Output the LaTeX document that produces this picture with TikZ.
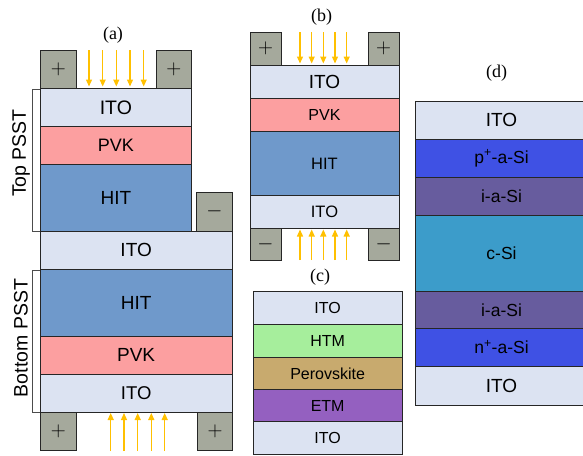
\documentclass[tikz,border=0pt]{standalone}
\usepackage{fontspec}
\setmainfont{Liberation Sans}
\newfontfamily\capfont{Liberation Serif}
\usetikzlibrary{arrows.meta,calc}

\definecolor{itocol}{HTML}{DCE3F2}
\definecolor{pvkcol}{HTML}{FC9FA0}
\definecolor{hitcol}{HTML}{6F99CB}
\definecolor{padcol}{HTML}{A5A99C}
\definecolor{raycol}{HTML}{FFC000}
\definecolor{htmcol}{HTML}{A6EE9C}
\definecolor{perocol}{HTML}{C8AA6E}
\definecolor{etmcol}{HTML}{9460C0}
\definecolor{dopecol}{HTML}{3F51E4}
\definecolor{intcol}{HTML}{675C9E}
\definecolor{csicol}{HTML}{3C9CCA}

\tikzset{
  edge/.style={draw=black!85, line width=0.9pt},
  lbl/.style={font=\fontsize{#1}{#1}\selectfont, inner sep=0pt},
  ray/.style={raycol, line width=1.3pt, -{Triangle[width=6pt,length=7pt]}},
  brace/.style={draw=black!70, line width=0.8pt},
  tag/.style={font=\capfont\fontsize{18}{18}\selectfont, inner sep=0pt},
}

% layer: [font size]{name}{colour}{x1}{y1}{x2}{y2}{text}
\newcommand{\layer}[8][18]{%
  \draw[edge, fill=#3] (#4,#5) rectangle (#6,#7);
  \node[lbl=#1] (#2) at ($(#4,#5)!0.5!(#6,#7)$) {#8};}

\begin{document}
\begin{tikzpicture}[x=1pt, y=-1pt]
	\clip (0,0) rectangle (583,455);
	
	% (a) top PSST
	\node[tag] (tagA) at (113,35) {(a)};
	\layer[21]{aPadL}{padcol}{40}{50}{76.7}{88}{$+$}
	\layer[21]{aPadR}{padcol}{156}{50}{191.7}{88}{$+$}
	\layer[19.5]{aIto}{itocol}{40}{88}{191.7}{126.7}{ITO}
	\layer[18]{aPvk}{pvkcol}{40}{126.7}{191.7}{164.3}{PVK}
	\layer[19]{aHit}{hitcol}{40}{164.3}{191.7}{231}{HIT}
	\layer[21]{aPadM}{padcol}{196.7}{192.3}{232.3}{231}{$-$}
	\layer[19]{aItoMid}{itocol}{40}{231}{232.3}{269.3}{ITO}
	
	% (a) bottom PSST
	\layer[19]{aHitB}{hitcol}{40}{269.3}{232.3}{336.7}{HIT}
	\layer[19]{aPvkB}{pvkcol}{40}{336.7}{232.3}{374}{PVK}
	\layer[18.5]{aItoB}{itocol}{40}{374}{232.3}{412.3}{ITO}
	\layer[21]{aPadBL}{padcol}{40}{412.3}{76.7}{450.7}{$+$}
	\layer[21]{aPadBR}{padcol}{197.7}{412.3}{232.3}{450.7}{$+$}
	
	\foreach \x in {89,102.7,116.3,130,143.7}
		\draw[ray] (\x,50) -- (\x,86.5);
	\foreach \x in {110.7,124,137.7,151.3,164.7}
		\draw[ray] (\x,451) -- (\x,413);
	
	\draw[brace] (40,89.3) -- (32.3,89.3) -- (32.3,231) -- (40,231);
	\draw[brace] (40,270) -- (32.3,270) -- (32.3,412.3) -- (40,412.3);
	\node[lbl=19.5, rotate=90] (topLbl) at (21,153) {Top PSST};
	\node[lbl=19.5, rotate=90] (botLbl) at (21,338) {Bottom PSST};
	
	% (b)
	\node[tag] (tagB) at (321.7,16.7) {(b)};
	\layer[21]{bPadL}{padcol}{250}{32.3}{281}{65}{$+$}
	\layer[21]{bPadR}{padcol}{368.3}{32.3}{399}{65}{$+$}
	\layer[19]{bIto}{itocol}{250}{65}{399}{98.3}{ITO}
	\layer[16]{bPvk}{pvkcol}{250}{98.3}{399}{131}{PVK}
	\layer[16.5]{bHit}{hitcol}{250}{131}{399}{195.7}{HIT}
	\layer[16.5]{bItoB}{itocol}{250}{195.7}{399}{228.3}{ITO}
	\layer[21]{bPadBL}{padcol}{250}{228.3}{281}{260}{$-$}
	\layer[21]{bPadBR}{padcol}{368.3}{228.3}{399}{260}{$-$}
	\foreach \x in {300,311.7,323.3,335,346.7} {
		\draw[ray] (\x,32) -- (\x,63.5);
		\draw[ray] (\x,260) -- (\x,229.5);
	}
	
	% (c)
	\node[tag] (tagC) at (320,277.3) {(c)};
	\layer[16]{cIto}{itocol}{253.3}{291.7}{402}{324.3}{ITO}
	\layer[16]{cHtm}{htmcol}{253.3}{324.3}{402}{357.7}{HTM}
	\layer[16]{cPero}{perocol}{253.3}{357.7}{402}{389.3}{Perovskite}
	\layer[16]{cEtm}{etmcol}{253.3}{389.3}{402}{421.7}{ETM}
	\layer[16]{cItoB}{itocol}{253.3}{421.7}{402}{454.3}{ITO}
	
	% (d)
	\node[tag] (tagD) at (496.7,73.3) {(d)};
	\layer[19]{dIto}{itocol}{415}{101}{588}{139.3}{ITO}
	\layer[17.5]{dP}{dopecol}{415}{139.3}{588}{177.3}{p\textsuperscript{+}-a-Si}
	\layer[17.5]{dI}{intcol}{415}{177.3}{588}{215.7}{i-a-Si}
	\layer[17.5]{dC}{csicol}{415}{215.7}{588}{291.7}{c-Si}
	\layer[17.5]{dIB}{intcol}{415}{291.7}{588}{328.3}{i-a-Si}
	\layer[17.5]{dN}{dopecol}{415}{328.3}{588}{366}{n\textsuperscript{+}-a-Si}
	\layer[19]{dItoB}{itocol}{415}{366}{588}{405}{ITO}
\end{tikzpicture}
\end{document}
